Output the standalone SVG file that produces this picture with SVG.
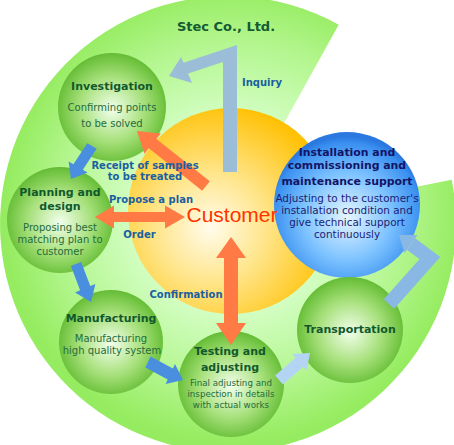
<svg xmlns="http://www.w3.org/2000/svg" width="454" height="445" viewBox="0 0 454 445">
<defs>
<radialGradient id="gBig" gradientUnits="userSpaceOnUse" cx="232" cy="215" r="228">
<stop offset="0.4" stop-color="#d6ffc8"/>
<stop offset="0.75" stop-color="#b4f690"/>
<stop offset="1" stop-color="#96ec60"/>
</radialGradient>
<radialGradient id="gYel" cx="0.4" cy="0.58" r="0.62">
<stop offset="0" stop-color="#fffcec"/>
<stop offset="0.45" stop-color="#ffe486"/>
<stop offset="1" stop-color="#ffc000"/>
</radialGradient>
<radialGradient id="gBlue" cx="0.5" cy="0.58" r="0.55">
<stop offset="0" stop-color="#e6f6ff"/>
<stop offset="0.55" stop-color="#7cc2ff"/>
<stop offset="0.92" stop-color="#3a90f0"/>
<stop offset="1" stop-color="#2a78e0"/>
</radialGradient>
<radialGradient id="gGreen" cx="0.5" cy="0.52" r="0.55">
<stop offset="0" stop-color="#f2ffec"/>
<stop offset="0.55" stop-color="#a6e07a"/>
<stop offset="0.9" stop-color="#6cc13c"/>
<stop offset="1" stop-color="#5cb02e"/>
</radialGradient>
</defs>
<style>
.node{fill:url(#gGreen)}
.t{font-family:"DejaVu Sans",sans-serif;font-weight:bold;font-size:11px;fill:#11592d;text-anchor:middle}
.s{font-family:"DejaVu Sans",sans-serif;font-size:10px;fill:#246c3c;text-anchor:middle}
.ss{font-family:"DejaVu Sans",sans-serif;font-size:8.7px;fill:#246c3c;text-anchor:middle}
.lbl{font-family:"DejaVu Sans",sans-serif;font-weight:bold;font-size:10px;fill:#1a60a0;text-anchor:middle}
.it{font-family:"DejaVu Sans",sans-serif;font-weight:bold;font-size:10.9px;fill:#141466;text-anchor:middle}
.is{font-family:"DejaVu Sans",sans-serif;font-size:10.4px;fill:#1c1c74;text-anchor:middle}
.or{fill:#ff7a44}
.bl{fill:#4a8ee0}
</style>
<g id="background">
<path d="M228,224 L451.7,179.7 A228,228 0 1 1 338.7,24.7 Z" fill="url(#gBig)"/>
<text x="226" y="31" font-family="DejaVu Sans,sans-serif" font-weight="bold" font-size="13px" fill="#145a32" text-anchor="middle">Stec Co., Ltd.</text>
</g>
<g id="customer">
<circle cx="231" cy="211" r="103" fill="url(#gYel)"/>
</g>
<g id="installation">
<circle cx="347" cy="205" r="73" fill="url(#gBlue)"/>
<text class="it" x="347" y="156">Installation and</text>
<text class="it" x="347" y="169">commissioning and</text>
<text class="it" x="347" y="185">maintenance support</text>
<text class="is" x="347" y="202">Adjusting to the customer's</text>
<text class="is" x="347" y="214">installation condition and</text>
<text class="is" x="347" y="226">give technical support</text>
<text class="is" x="347" y="238">continuously</text>
</g>
<g id="investigation">
<circle class="node" cx="112" cy="107" r="54"/>
<text class="t" x="112" y="90">Investigation</text>
<text class="s" x="112" y="111">Confirming points</text>
<text class="s" x="112" y="127">to be solved</text>
</g>
<g id="planning">
<circle class="node" cx="60" cy="220" r="53"/>
<text class="t" x="60" y="196">Planning and</text>
<text class="t" x="60" y="210">design</text>
<text class="s" x="60" y="231">Proposing best</text>
<text class="s" x="60" y="243">matching plan to</text>
<text class="s" x="60" y="255">customer</text>
</g>
<g id="manufacturing">
<circle class="node" cx="111" cy="342" r="52"/>
<text class="t" x="111" y="322">Manufacturing</text>
<text class="s" x="111" y="342">Manufacturing</text>
<text class="s" x="112" y="354">high quality system</text>
</g>
<g id="testing">
<circle class="node" cx="231" cy="384" r="53"/>
<text class="t" x="230" y="355">Testing and</text>
<text class="t" x="230" y="371">adjusting</text>
<text class="ss" x="231" y="386">Final adjusting and</text>
<text class="ss" x="231" y="397">inspection in details</text>
<text class="ss" x="231" y="408">with actual works</text>
</g>
<g id="transportation">
<circle class="node" cx="350" cy="330" r="53"/>
<text class="t" x="350" y="333">Transportation</text>
</g>
<g id="connectors">
<polygon fill="#9bbdd8" points="237,45 237,172 223,172 223,62 188,73.6 192,83 169,76 181,57 183.5,62.8"/>
<polygon class="or" points="137,131 160.8,133.4 156.4,138.9 209.8,181.3 202.2,190.7 148.8,148.3 144.4,153.7"/>
<polygon class="or" points="95,217 114,205.5 114,212 165,212 165,205.5 185,217 165,228.5 165,222 114,222 114,228.5"/>
<polygon class="or" points="231,237 246,258 238,258 238,323 246,323 231,345 216,323 224,323 224,258 216,258"/>
<polygon class="bl" points="96.7,148.8 82.8,169.8 87.6,172.6 71,179 68.6,161.4 73.4,164.2 87.3,143.2"/>
<polygon class="bl" points="81.1,261.9 90.3,286.1 95.4,284 91,302 75,292.4 80.1,290.3 70.9,266.1"/>
<polygon class="bl" points="150.6,356.6 172.9,368.6 175,364.1 183,380 165.6,383.9 167.7,379.4 145.4,367.4"/>
<polygon fill="#b4d4f4" points="282.9,384.5 303.3,366.7 306.6,370.5 310,353 292.2,353.9 295.5,357.7 275.1,375.5"/>
<polyline fill="none" stroke="#8ab8e4" stroke-width="14" stroke-linejoin="miter" points="389,304 430,258 411,244"/>
<polygon fill="#8ab8e4" points="398.9,235.1 417.5,235.1 404.5,252.9"/>
<text class="lbl" x="262" y="86">Inquiry</text>
<text class="lbl" x="145" y="169">Receipt of samples</text>
<text class="lbl" x="145" y="180">to be treated</text>
<text class="lbl" x="151" y="203">Propose a plan</text>
<text class="lbl" x="139.5" y="238">Order</text>
<text class="lbl" x="186" y="298">Confirmation</text>
<text x="232" y="222" font-family="Liberation Sans,Arial,sans-serif" font-size="21px" fill="#ff3300" text-anchor="middle">Customer</text>
</g>
</svg>
